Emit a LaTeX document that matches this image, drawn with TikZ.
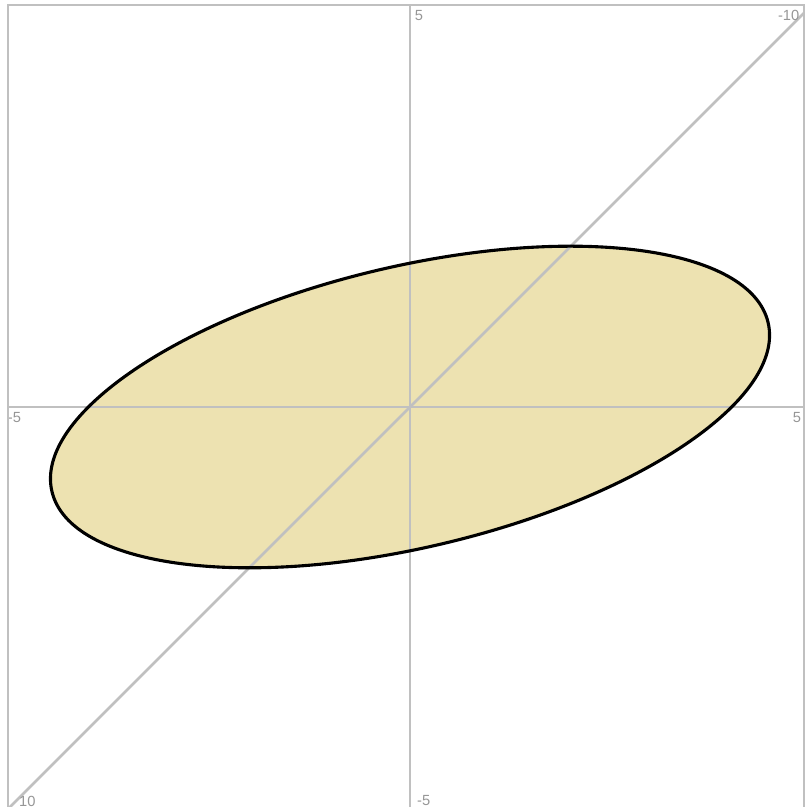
\documentclass[tikz,border=0pt]{standalone}
\usepackage{fontspec}
\setsansfont{Liberation Sans}
\usetikzlibrary{calc}
\definecolor{gridgray}{RGB}{192,192,192}
\definecolor{labelgray}{RGB}{150,150,150}
\definecolor{conicfill}{RGB}{237,226,177}

\begin{document}
\begin{tikzpicture}[x=1cm,y=1cm,
      axis/.style={draw=gridgray,line width=0.9pt},
      tick/.style={text=labelgray,font=\sffamily\fontsize{5.2}{6}\selectfont,inner sep=0pt},
      conic/.style={draw=black,line width=1.1pt}]
      \useasboundingbox (-5.0995,-4.975) rectangle (4.925,5.062);
      % filled region x^2-2xy+5y^2 <= 16
      \fill[conicfill,rotate=13.28] (0,0) ellipse [x radius=4.576,y radius=1.748];
      % axes and diagonal
      \coordinate (o) at (0,0);
      \draw[axis] (-5,0) -- (4.9,0);
      \draw[axis] (0,-5) -- (0,5);
      \draw[axis] (-5,-5) -- (4.9,4.9);
      % labels
      \node[tick] (ytop) at (0.11,4.87) {5};
      \node[tick] (dtop) at (4.71,4.87) {-10};
      \node[tick] (xleft) at (-4.92,-0.13) {-5};
      \node[tick,anchor=east] (xright) at (4.87,-0.13) {5};
      \node[tick] (dbot) at (-4.76,-4.90) {10};
      \node[tick] (ybot) at (0.17,-4.90) {-5};
      % frame
      \draw[axis] (-5,-5.2) -- (-5,5) -- (4.9,5) -- (4.9,-5.2);
      % boundary curve
      \draw[conic,rotate=13.28] (o) ellipse [x radius=4.576,y radius=1.748];
    \end{tikzpicture}
\end{document}
